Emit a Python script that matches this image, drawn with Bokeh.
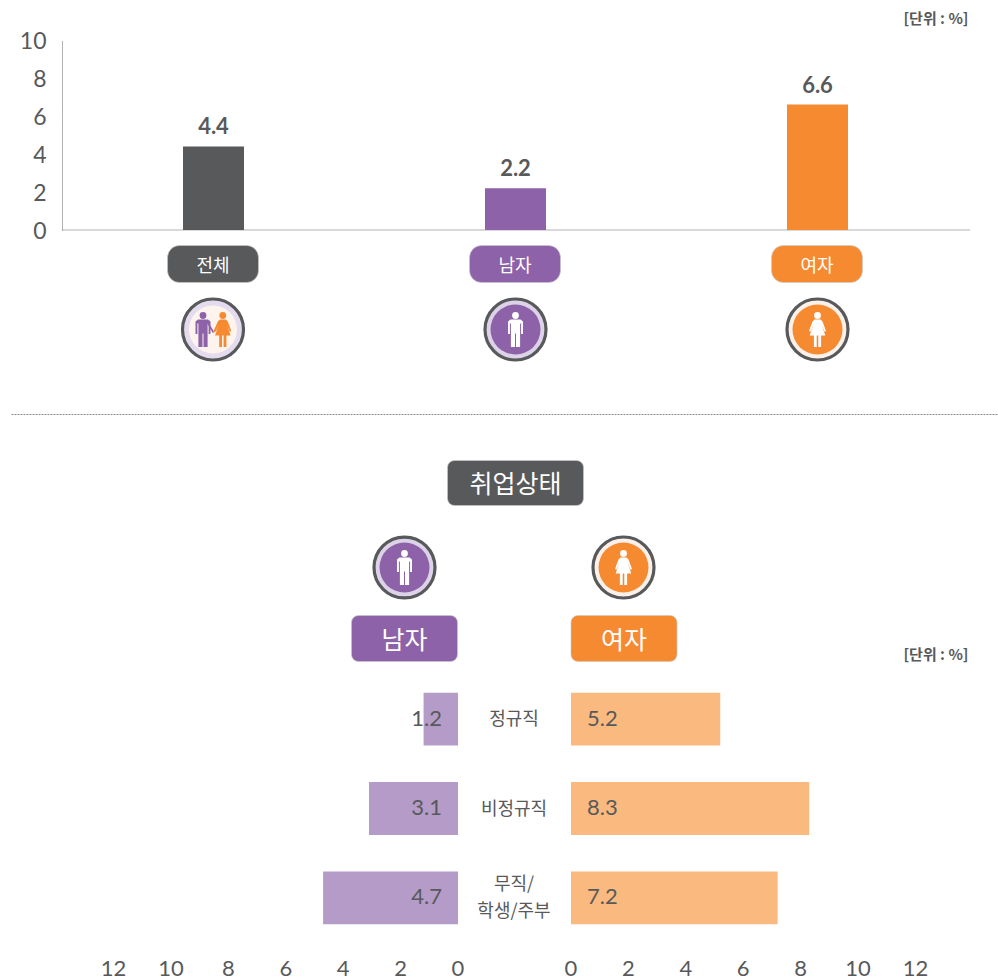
from bokeh.embed import file_html
from bokeh.resources import INLINE
from bokeh.plotting import figure
from bokeh.layouts import column, row
from bokeh.models import Range1d, FactorRange, FixedTicker, BoxAnnotation
from bokeh.core.properties import value

# ---- data ----
groups = ["전체", "남자", "여자"]
rates = [4.4, 2.2, 6.6]
status = ["정규직", "비정규직", "무직/\n학생/주부"]
male = [1.2, 3.1, 4.7]
female = [5.2, 8.3, 7.2]
top_ticks = [0, 2, 4, 6, 8, 10]
bottom_ticks = [0, 2, 4, 6, 8, 10, 12]
unit_label = "[단위 : %]"
section_title = "취업상태"

# ---- style ----
GRAY, PURPLE, ORANGE = "#58595b", "#8e62a8", "#f68a31"
LIGHT_PURPLE, LIGHT_ORANGE = "#b49bc8", "#fab97f"
KR = "Noto Sans CJK KR"
NUM = "Lato"
group_colors = [GRAY, PURPLE, ORANGE]

MAN = [(-7.5,-8),(-5,-10),(5,-10),(7.5,-8),(7.5,4.5),(5.6,4.5),(5.6,-6),(4.6,-6),(4.6,17.5),(0.5,17.5),
       (0.5,4),(-0.5,4),(-0.5,17.5),(-4.6,17.5),(-4.6,-6),(-5.6,-6),(-5.6,4.5),(-7.5,4.5)]
WOMAN = [(-3,-10),(3,-10),(5,-8),(8.5,1.5),(7,2.2),(4,-5),(7.8,6),(3.6,6),(3.6,17.5),(0.8,17.5),(0.8,6),
         (-0.8,6),(-0.8,17.5),(-3.6,17.5),(-3.6,6),(-7.8,6),(-4,-5),(-7,2.2),(-8.5,1.5),(-5,-8)]


def blank(**kw):
    opts = dict(min_border_left=0, min_border_right=0, min_border_top=0, min_border_bottom=0, frame_align=False)
    opts.update(kw)
    p = figure(output_backend="svg", toolbar_location=None, background_fill_color="white",
               border_fill_color="white", outline_line_color=None, **opts)
    p.grid.visible = False
    return p


def pill(p, l, r, t, b, color, radius, **rng):
    p.add_layout(BoxAnnotation(left=l, right=r, top=t, bottom=b, fill_color=color, fill_alpha=1,
                               line_color="#c9c9cb", line_width=1, line_alpha=0.6,
                               border_radius=radius, level="underlay", **rng))


def label(p, x, y, txt, size, color="white", align="center", font=KR, style="normal", **rng):
    p.text([x], [y], text=[txt], text_font=value(font), text_font_size=f"{size}px", text_color=color,
           text_align=align, text_baseline="middle", text_font_style=style, **rng)


def person(p, cx, cy, shape, color, **rng):
    p.patch([cx + a for a, _ in shape], [cy + b for _, b in shape], fill_color=color, line_color=None, **rng)
    p.scatter([cx], [cy - 14], size=6.8, fill_color=color, line_color=None, **rng)


def ring(p, cx, cy, mid, inner, inner_size, **rng):
    p.scatter([cx], [cy], size=61, fill_color=mid, line_color=GRAY, line_width=3.2, **rng)
    p.scatter([cx], [cy], size=inner_size, fill_color=inner, line_color=None, **rng)


# ---- top bar chart ----
TOP_H = 400
y0, per_unit = 229.5, 19.0
centre0, step = 213.0, 302.0
left_edge = 62
top = blank(width=998, height=TOP_H, min_border_left=left_edge, x_axis_location=None,
            x_range=Range1d((left_edge - centre0) / step, (998 - centre0) / step),
            y_range=Range1d((y0 - TOP_H) / per_unit, y0 / per_unit))
top.extra_x_ranges["page"] = Range1d(left_edge, 998)
top.extra_y_ranges["page"] = Range1d(TOP_H, 0)
pg = dict(x_range_name="page", y_range_name="page")

yax = top.yaxis[0]
yax.ticker = FixedTicker(ticks=top_ticks)
yax.bounds = (0, 10)
yax.axis_line_color = "#666666"
yax.axis_line_dash = "1 1"
yax.major_tick_line_color = None
yax.minor_tick_line_color = None
yax.major_label_text_font = NUM
yax.major_label_text_font_size = "23px"
yax.major_label_text_color = GRAY
yax.major_label_standoff = 10

xs = list(range(len(groups)))
top.line([(left_edge - centre0) / step, (970 - centre0) / step], [0, 0], line_color="#666666", line_dash="1 1")
top.vbar(x=xs, top=rates, bottom=0, width=61 / step, fill_color=group_colors, line_color=None)
top.text(xs, rates, text=[f"{v:.1f}" for v in rates], text_font=value(NUM), text_font_style="bold",
         text_font_size="22px", text_color=GRAY, text_align="center", text_baseline="bottom", y_offset=-12)

label(top, 968, 17, unit_label, 15, GRAY, "right", style="bold", **pg)
for i, (g, c) in enumerate(zip(groups, group_colors)):
    cx = 212.5 + i * step
    pill(top, cx - 45.5, cx + 45.5, 245, 282, c, 12, **pg)
    label(top, cx, 263, g, 18, **pg)

ring(top, 212.5, 329, "#e4dcee", "#fdf4ee", 48, **pg)
top.line([207, 213], [322, 332], line_color=PURPLE, line_width=1.6, **pg)
top.line([218, 213], [322, 332], line_color=ORANGE, line_width=1.6, **pg)
person(top, 202.5, 329, MAN, PURPLE, **pg)
person(top, 222.3, 329, WOMAN, ORANGE, **pg)
ring(top, 515, 329, "#ddd3e8", PURPLE, 50, **pg)
person(top, 515, 329, MAN, "white", **pg)
ring(top, 817, 329, "#fbf1ea", ORANGE, 50, **pg)
person(top, 817, 329, WOMAN, "white", **pg)

# ---- header of the lower block ----
HEAD_TOP, HEAD_BOTTOM = TOP_H, 674
head = blank(width=998, height=HEAD_BOTTOM - HEAD_TOP, x_axis_location=None, y_axis_location=None,
             x_range=Range1d(0, 998), y_range=Range1d(HEAD_BOTTOM, HEAD_TOP))
head.line([11, 997], [414, 414], line_color="#8a8a8a", line_dash="2 1")
pill(head, 447, 583, 460, 505, GRAY, 7)
label(head, 515, 481, section_title, 25)
ring(head, 404, 567, "#ddd3e8", PURPLE, 50)
person(head, 404, 567, MAN, "white")
ring(head, 623, 567, "#fbf1ea", ORANGE, 50)
person(head, 623, 567, WOMAN, "white")
pill(head, 351, 457, 615, 661, PURPLE, 7)
label(head, 404, 637, groups[1], 25)
pill(head, 570.5, 676.5, 615, 661, ORANGE, 7)
label(head, 623.5, 637, groups[2], 25)
label(head, 968, 653, unit_label, 15, GRAY, "right", style="bold")

# ---- lower bars ----
LOW_H = 980 - HEAD_BOTTOM
BAND = 89.5
factors = list(reversed(status))
px_unit = 28.7
L_W, C_W, R_W = 465, 97, 436
zero_l, zero_r = 457.5, 570.5 - (L_W + C_W)


def low(width, x_range):
    p = blank(width=width, height=LOW_H, x_range=x_range, y_range=FactorRange(factors=factors),
              y_axis_location=None, min_border_bottom=LOW_H - 268)
    ax = p.xaxis[0]
    ax.ticker = FixedTicker(ticks=bottom_ticks)
    ax.axis_line_color = None
    ax.major_tick_line_color = None
    ax.minor_tick_line_color = None
    ax.major_label_text_font = NUM
    ax.major_label_text_font_size = "22px"
    ax.major_label_text_color = GRAY
    ax.major_label_standoff = 12
    return p


left = low(L_W, Range1d(zero_l / px_unit, (zero_l - L_W) / px_unit))
left.hbar(y=status, left=0, right=male, height=53 / BAND, fill_color=LIGHT_PURPLE, line_color=None)
left.text(x=[0] * 3, y=status, text=[f"{v:.1f}" for v in male], text_font=value(NUM), text_font_size="22px",
          text_color=GRAY, text_align="right", text_baseline="middle", x_offset=-16, y_offset=-1)

right = low(R_W, Range1d(-zero_r / px_unit, (R_W - zero_r) / px_unit))
right.hbar(y=status, left=0, right=female, height=53 / BAND, fill_color=LIGHT_ORANGE, line_color=None)
right.text(x=[0] * 3, y=status, text=[f"{v:.1f}" for v in female], text_font=value(NUM), text_font_size="22px",
           text_color=GRAY, text_align="left", text_baseline="middle", x_offset=16, y_offset=-1)

mid = blank(width=C_W, height=LOW_H, x_range=Range1d(0, 1), y_range=FactorRange(factors=factors),
            x_axis_location=None, y_axis_location=None, min_border_bottom=LOW_H - 268)
mid.text(x=[0.5] * 3, y=status, text=status, text_font=value(KR), text_font_size="18px", text_color=GRAY,
         text_align="center", text_baseline="middle", text_line_height=1.05, y_offset=-2)

page = column(top, head, row(left, mid, right))
open("out.html", "w").write(file_html(page, INLINE))
